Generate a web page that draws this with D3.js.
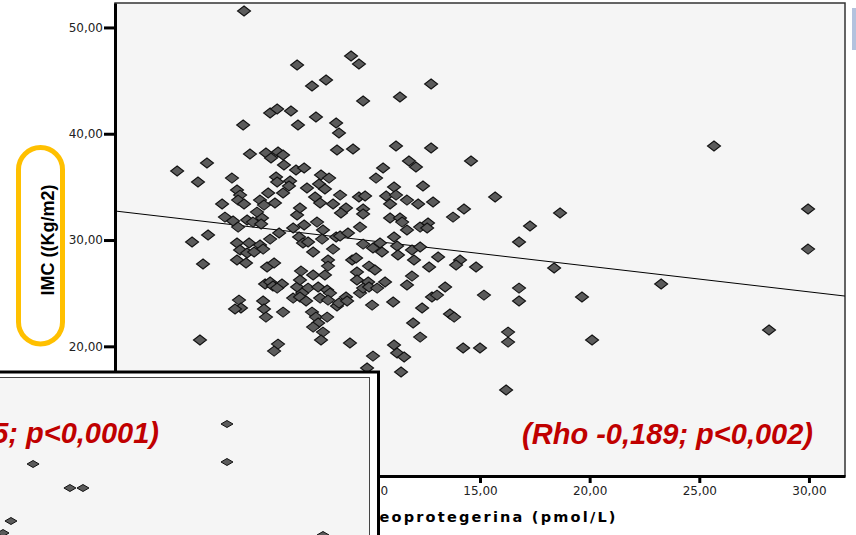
<!DOCTYPE html>
<html>
<head>
<meta charset="utf-8">
<script src="https://cdn.jsdelivr.net/npm/d3@7"></script>
<style>
  html, body { margin: 0; padding: 0; background: #fff; }
  svg { display: block; }
  .axis path, .axis line { stroke: #000; stroke-width: 3; }
  .axis text { font-family: "DejaVu Sans", sans-serif; font-size: 12px; fill: #222; }
</style>
</head>
<body>
<script>
// osteoprotegerina (pmol/L)
var opgValues = [
  4.24, 9.12, 9.48, 6.66, 7.34, 7.98, 12.77, 9.67, 11.35, 5.43,
  5.75, 6.38, 4.20, 6.70, 7.52, 8.44, 8.57, 8.48, 9.21, 11.17,
  12.77, 4.51, 5.24, 5.47, 5.79, 6.02, 6.06, 6.61, 6.98, 11.76,
  12.08, 10.58, 14.59, 1.19, 2.55, 2.14, 3.69, 5.70, 5.75, 6.34,
  6.29, 7.75, 8.12, 7.66, 7.93, 10.26, 11.08, 12.40, 3.92, 4.06,
  5.34, 6.02, 7.11, 7.48, 8.62, 9.48, 9.76, 10.72, 11.17, 11.67,
  15.69, 3.24, 3.97, 4.24, 4.97, 5.15, 5.65, 7.71, 8.30, 8.89,
  8.66, 9.67, 9.67, 10.90, 12.18, 12.86, 3.37, 3.74, 3.97, 4.38,
  4.65, 5.06, 5.02, 4.83, 1.87, 2.60, 6.66, 6.79, 6.48, 6.98,
  6.75, 7.57, 7.84, 7.80, 8.44, 8.62, 8.98, 9.53, 5.84, 5.43,
  3.92, 4.47, 4.97, 5.11, 4.06, 4.38, 4.70, 3.92, 4.33, 6.93,
  7.16, 7.39, 8.30, 9.67, 10.12, 10.53, 10.44, 11.08, 11.22, 11.26,
  11.90, 11.99, 12.27, 11.67, 12.27, 12.63, 12.59, 13.77, 14.27, 13.09,
  14.09, 13.91, 14.82, 12.68, 10.90, 11.35, 11.45, 2.37, 5.29, 5.61,
  6.84, 7.39, 7.93, 8.07, 8.07, 9.17, 9.35, 9.94, 10.21, 9.39,
  9.39, 9.90, 10.67, 11.90, 11.67, 5.20, 5.43, 5.56, 5.97, 5.75,
  6.66, 6.79, 7.16, 6.89, 6.48, 6.79, 7.07, 7.62, 7.71, 8.03,
  8.16, 8.07, 8.48, 8.57, 8.89, 8.94, 9.53, 9.67, 9.94, 10.31,
  10.08, 11.04, 12.36, 12.81, 13.04, 13.41, 15.18, 11.95, 12.27, 13.63,
  13.82, 4.01, 4.10, 3.83, 5.11, 5.15, 5.24, 6.02, 7.34, 7.52,
  8.03, 7.62, 7.39, 7.84, 7.75, 9.07, 10.12, 9.85, 11.08, 11.22,
  11.54, 11.40, 14.23, 15.00, 2.23, 5.79, 5.61, 18.65, 17.28, 16.78,
  18.38, 16.78, 16.78, 19.65, 23.26, 16.28, 16.28, 20.11, 28.18, 29.96,
  29.96, 25.67, 16.19
];

// IMC (Kg/m2)
var imcValues = [
  51.55, 47.31, 46.56, 46.47, 44.49, 45.06, 44.68, 43.08, 43.46, 41.95,
  42.33, 42.14, 40.82, 40.82, 41.57, 41.01, 40.07, 38.47, 38.56, 38.85,
  38.66, 38.09, 38.19, 37.72, 38.28, 38.00, 37.06, 36.59, 36.78, 37.43,
  36.87, 36.78, 37.43, 36.49, 37.25, 35.46, 35.83, 35.93, 35.46, 35.55,
  35.08, 36.12, 35.83, 35.27, 34.80, 35.83, 34.99, 35.08, 34.71, 34.23,
  34.42, 34.42, 34.89, 34.05, 34.23, 34.05, 34.14, 34.14, 34.23, 33.76,
  34.05, 33.39, 33.76, 33.39, 33.76, 33.29, 33.48, 33.48, 33.39, 33.01,
  32.54, 32.92, 32.45, 33.39, 33.39, 33.58, 32.16, 31.79, 31.22, 31.88,
  31.69, 32.07, 31.51, 32.63, 29.81, 30.47, 32.35, 33.01, 31.13, 31.41,
  30.28, 31.69, 30.94, 30.09, 30.28, 30.38, 30.66, 31.22, 30.66, 30.09,
  29.72, 29.72, 29.53, 29.15, 29.06, 28.78, 28.87, 28.12, 27.84, 29.72,
  29.81, 28.87, 29.15, 29.62, 29.25, 28.87, 29.72, 30.28, 29.44, 28.59,
  29.06, 28.12, 29.34, 30.94, 31.22, 31.60, 31.13, 32.16, 32.92, 28.40,
  28.12, 27.65, 27.46, 27.46, 32.07, 32.07, 31.69, 27.74, 27.46, 27.84,
  27.08, 26.71, 26.71, 28.12, 27.55, 28.12, 28.31, 27.55, 27.18, 26.99,
  26.24, 26.05, 26.05, 26.61, 25.77, 25.86, 26.05, 25.67, 25.86, 25.48,
  25.58, 26.24, 25.48, 25.01, 24.54, 24.64, 24.26, 25.58, 24.54, 25.30,
  25.01, 24.35, 23.79, 24.07, 24.64, 24.26, 25.01, 25.48, 25.58, 25.48,
  23.88, 24.17, 23.60, 24.64, 24.82, 25.58, 24.82, 22.19, 20.87, 23.04,
  22.75, 24.35, 23.60, 23.51, 24.26, 23.51, 22.75, 23.22, 23.22, 22.75,
  22.75, 22.19, 21.81, 21.34, 20.59, 20.31, 19.08, 17.96, 20.12, 19.37,
  18.99, 17.58, 19.84, 19.84, 20.59, 20.21, 19.55, 32.54, 31.32, 29.81,
  27.37, 25.48, 24.26, 24.64, 25.86, 21.34, 20.40, 20.59, 21.53, 32.92,
  29.15, 38.85, 15.89
];

// recta de regresion (extremos)
var fitX = [-1.64, 31.64];
var fitY = [32.73, 24.73];

// marcas visibles (las de abajo a la izquierda quedan tapadas)
var xTicks = [0, 5, 10, 15, 20, 25, 30];
var yTicks = [20, 30, 40, 50];

// grafico superpuesto (abajo a la izquierda)
var insetX = [12.01, 12.01, 1.75, 3.70, 4.39, 0.58, 0.16, 17.09];
var insetY = [38.25, 28.75, 28.25, 22.25, 22.25, 14.0, 11.0, 10.5];

var width = 856;
var height = 535;

var svg = d3.select("body")
  .append("svg")
  .attr("width", width)
  .attr("height", height);

var plot = { left: 115, right: 845, top: 3, bottom: 476 };

var xScale = d3.scaleLinear()
  .domain([-1.644, 31.644])
  .range([plot.left, plot.right]);

var yScale = d3.scaleLinear()
  .domain([7.80, 52.30])
  .range([plot.bottom, plot.top]);

var fmt = function (d) { return d3.format(".2f")(d).replace(".", ","); };

//fondo del grafico
svg.append("rect")
  .attr("x", plot.left)
  .attr("y", plot.top)
  .attr("width", plot.right - plot.left)
  .attr("height", plot.bottom - plot.top)
  .attr("fill", "#f5f5f5")
  .attr("stroke", "#333")
  .attr("stroke-width", 1.5);

//recta
var line = d3.line()
  .x(function (d) { return xScale(d[0]); })
  .y(function (d) { return yScale(d[1]); });

svg.append("path")
  .datum(d3.zip(fitX, fitY))
  .attr("d", line)
  .attr("fill", "none")
  .attr("stroke", "#000")
  .attr("stroke-width", 1);

//puntos
var diamond = "M0,-5L6.5,0L0,5L-6.5,0Z";
svg.selectAll(".pt")
  .data(d3.zip(opgValues, imcValues))
  .enter()
  .append("path")
  .attr("class", "pt")
  .attr("d", diamond)
  .attr("transform", function (d) {
    return "translate(" + xScale(d[0]) + "," + yScale(d[1]) + ")";
  })
  .attr("fill", "#5b5b5b")
  .attr("stroke", "#111")
  .attr("stroke-width", 1.1);

//ejes
var yAxis = d3.axisLeft(yScale)
  .tickValues(yTicks)
  .tickFormat(fmt)
  .tickSize(11)
  .tickSizeOuter(0)
  .tickPadding(1);

var xAxis = d3.axisBottom(xScale)
  .tickValues(xTicks)
  .tickFormat(fmt)
  .tickSize(7)
  .tickSizeOuter(0)
  .tickPadding(3);

svg.append("g")
  .attr("class", "axis")
  .attr("transform", "translate(" + plot.left + ",0)")
  .call(yAxis);

svg.append("g")
  .attr("class", "axis")
  .attr("transform", "translate(0," + plot.bottom + ")")
  .call(xAxis);

//texto rojo
svg.append("text")
  .attr("x", 813)
  .attr("y", 444)
  .attr("text-anchor", "end")
  .attr("font-family", "Liberation Sans, Arial, sans-serif")
  .attr("font-weight", "bold")
  .attr("font-style", "italic")
  .attr("font-size", 29)
  .attr("fill", "#c00000")
  .text("(Rho -0,189; p<0,002)");

//titulo eje x
svg.append("text")
  .attr("x", 345)
  .attr("y", 522)
  .attr("font-family", "DejaVu Sans, sans-serif")
  .attr("font-weight", "bold")
  .attr("font-size", 14.5)
  .attr("letter-spacing", 2.2)
  .attr("fill", "#000")
  .text("Osteoprotegerina (pmol/L)");

//titulo eje y con marco naranja
svg.append("rect")
  .attr("x", 18.5)
  .attr("y", 147.5)
  .attr("width", 44)
  .attr("height", 196.5)
  .attr("rx", 22)
  .attr("fill", "#fff")
  .attr("stroke", "#ffc000")
  .attr("stroke-width", 5);

svg.append("text")
  .attr("transform", "translate(48,240) rotate(-90)")
  .attr("text-anchor", "middle")
  .attr("dominant-baseline", "central")
  .attr("font-family", "Liberation Sans, Arial, sans-serif")
  .attr("font-weight", "bold")
  .attr("font-size", 18)
  .attr("fill", "#000")
  .text("IMC ((Kg/m2)");

//grafico superpuesto
var inset = svg.append("g");

inset.append("rect")
  .attr("x", -10)
  .attr("y", 372)
  .attr("width", 388.5)
  .attr("height", 200)
  .attr("fill", "#fff")
  .attr("stroke", "#000")
  .attr("stroke-width", 3);

inset.append("rect")
  .attr("x", -10)
  .attr("y", 377.5)
  .attr("width", 379.5)
  .attr("height", 200)
  .attr("fill", "#f5f5f5")
  .attr("stroke", "#444")
  .attr("stroke-width", 1);

var insetXScale = d3.scaleLinear().domain([0, 20]).range([0, 378]);
var insetYScale = d3.scaleLinear().domain([0, 50]).range([577, 377]);

inset.selectAll(".ipt")
  .data(d3.zip(insetX, insetY))
  .enter()
  .append("path")
  .attr("class", "ipt")
  .attr("d", "M0,-3.5L6,0L0,3.5L-6,0Z")
  .attr("transform", function (d) {
    return "translate(" + insetXScale(d[0]) + "," + insetYScale(d[1]) + ")";
  })
  .attr("fill", "#5b5b5b")
  .attr("stroke", "#111")
  .attr("stroke-width", 1);

inset.append("text")
  .attr("x", 159)
  .attr("y", 443)
  .attr("text-anchor", "end")
  .attr("font-family", "Liberation Sans, Arial, sans-serif")
  .attr("font-weight", "bold")
  .attr("font-style", "italic")
  .attr("font-size", 29)
  .attr("fill", "#c00000")
  .text("(Rho -0,255; p<0,0001)");

//borde derecho de la diapositiva
svg.append("rect")
  .attr("x", 852)
  .attr("y", 8)
  .attr("width", 4)
  .attr("height", 42)
  .attr("fill", "#b4c2de");
</script>
</body>
</html>
